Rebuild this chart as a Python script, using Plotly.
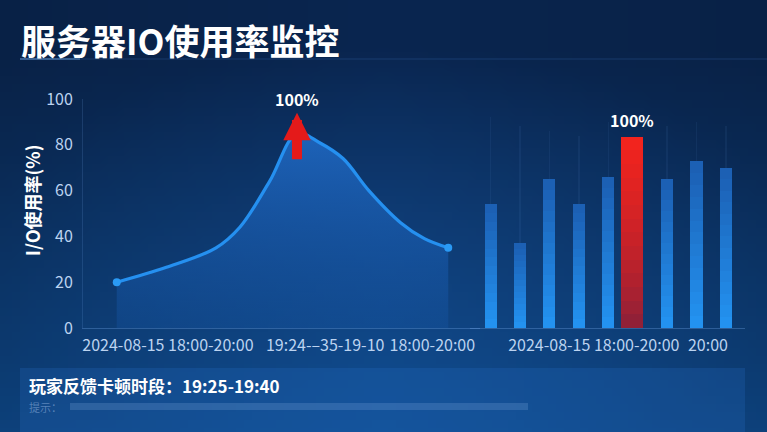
import base64, struct, zlib
import plotly.graph_objects as go

W, H = 767, 432

# ---------------- data ----------------
line_x = [0.85, 2.1, 3.35, 3.95, 4.7, 5.39, 5.95, 6.55, 7.2, 8.0, 8.6, 9.2]
line_y = [20, 26.5, 35, 44, 64, 85, 81, 74, 60, 46, 39, 35]
left_tick_vals = [2.14, 6.1, 8.8]
left_tick_text = ["2024-08-15 18:00-20:00", "19:24-–35-19-10", "18:00-20:00"]

bar_x = [0, 1, 2, 3, 4, 4.82, 6, 7, 8]
bar_y = [54, 37, 65, 54, 66, 83.5, 65, 73, 70]
bar_w = [0.41, 0.41, 0.41, 0.41, 0.41, 0.75, 0.41, 0.41, 0.41]
bar_is_red = [False, False, False, False, False, True, False, False, False]
guide_y = [92, 88, 86, 84, 90, 0, 88, 90, 88]
right_tick_vals = [3.51, 7.39]
right_tick_text = ["2024-08-15 18:00-20:00", "20:00"]

y_ticks = [0, 20, 40, 60, 80, 100]

title_text = "服务器IO使用率监控"
y_title = "I/O使用率(%)"
peak_label = "100%"
note_title = "玩家反馈卡顿时段：19:25-19:40"
note_hint = "提示："

FONT = "Noto Sans CJK SC"


def px(x):
    return x / W


def py(y):
    return 1 - y / H


def make_png(w, h, fn):
    raw = b""
    for j in range(h):
        raw += b"\x00"
        for i in range(w):
            r, g, b = fn(i / (w - 1), j / (h - 1))
            raw += bytes((int(r), int(g), int(b)))
    def chunk(t, d):
        c = struct.pack(">I", len(d)) + t + d
        return c + struct.pack(">I", zlib.crc32(t + d) & 0xFFFFFFFF)
    png = b"\x89PNG\r\n\x1a\n" + chunk(b"IHDR", struct.pack(">IIBBBBB", w, h, 8, 2, 0, 0, 0))
    png += chunk(b"IDAT", zlib.compress(raw, 9)) + chunk(b"IEND", b"")
    return "data:image/png;base64," + base64.b64encode(png).decode()


top = (10, 38, 80)
bot = (15, 74, 140)


def bg(u, v):
    t = min(1.0, max(0.0, (v - 0.1) / 0.9)) ** 1.1
    c = [top[k] + (bot[k] - top[k]) * t for k in range(3)]
    d = ((u - 0.5) / 0.55) ** 2 + ((v - 0.6) / 0.5) ** 2
    glow = max(0.0, 1 - d) * 0.25
    c = [c[0] + 10 * glow, c[1] + 30 * glow, c[2] + 50 * glow]
    e = 1 - 0.12 * abs(u - 0.5) * 2
    return tuple(min(255, max(0, ch * e)) for ch in c)


bg_img = make_png(96, 54, bg)

fig = go.Figure()

fig.add_trace(go.Scatter(
    x=line_x, y=line_y, mode="lines",
    line=dict(color="#2590f0", width=3.2, shape="spline", smoothing=1.0),
    fill="tozeroy",
    fillgradient=dict(type="vertical", start=0, stop=85,
                      colorscale=[[0, "rgba(24,92,178,0.25)"], [0.5, "rgba(28,100,190,0.55)"],
                                  [1, "rgba(34,112,208,0.8)"]]),
    hoverinfo="skip", showlegend=False, xaxis="x", yaxis="y"))
fig.add_trace(go.Scatter(
    x=[line_x[0], line_x[-1]], y=[line_y[0], line_y[-1]], mode="markers",
    marker=dict(color="#2a9af5", size=8), hoverinfo="skip", showlegend=False,
    xaxis="x", yaxis="y"))

# faint guide lines above bars
fig.add_trace(go.Bar(x=bar_x, y=guide_y, width=0.05,
                     marker=dict(color="rgba(120,170,235,0.07)", line=dict(width=0)),
                     hoverinfo="skip", showlegend=False, xaxis="x2", yaxis="y2"))


def lerp(a, b, t):
    return "rgb(%d,%d,%d)" % tuple(a[k] + (b[k] - a[k]) * t for k in range(3))


blue_bot, blue_top = (36, 150, 245), (28, 96, 180)
red_bot, red_top = (120, 32, 62), (242, 36, 30)
N = 14
for k in range(N, 0, -1):
    f = k / N
    cols = []
    for red in bar_is_red:
        if red:
            cols.append(lerp(red_bot, red_top, min(1, f ** 0.6)))
        else:
            cols.append(lerp(blue_bot, blue_top, f))
    fig.add_trace(go.Bar(
        x=bar_x, y=[v * f for v in bar_y], width=bar_w,
        marker=dict(color=cols, line=dict(width=0)),
        hoverinfo="skip", showlegend=False, xaxis="x2", yaxis="y2"))

axis_line = "rgba(110,160,225,0.35)"
tick_font = dict(family=FONT, size=16, color="#bcd3f0")
ydom = [(H - 328) / H, (H - 99) / H]

fig.update_layout(
    width=W, height=H,
    margin=dict(l=0, r=0, t=0, b=0, pad=0, autoexpand=False),
    paper_bgcolor="#0c2f60", plot_bgcolor="rgba(0,0,0,0)",
    barmode="overlay", bargap=0,
    xaxis=dict(domain=[px(83), px(480)], range=[0, 10], showgrid=False, zeroline=False,
               showline=True, linecolor=axis_line, linewidth=1, tickangle=0,
               tickvals=left_tick_vals, ticktext=left_tick_text, ticks="",
               tickfont=tick_font, ticklabelstandoff=3, fixedrange=True, automargin=False),
    yaxis=dict(domain=ydom, range=[0, 100], showgrid=False, zeroline=False,
               showline=True, linecolor="rgba(110,160,225,0.18)", linewidth=1,
               tickvals=y_ticks, ticks="", tickfont=tick_font, ticklabelstandoff=6,
               fixedrange=True, automargin=False),
    xaxis2=dict(domain=[px(470), px(745)], range=[-0.7, 8.65], showgrid=False, zeroline=False,
                showline=True, linecolor=axis_line, linewidth=1, tickangle=0,
                tickvals=right_tick_vals, ticktext=right_tick_text, ticks="",
                tickfont=tick_font, ticklabelstandoff=3, anchor="y2", fixedrange=True,
                automargin=False),
    yaxis2=dict(domain=ydom, range=[0, 100], visible=False, anchor="x2", fixedrange=True),
    images=[dict(source=bg_img, xref="paper", yref="paper", x=0, y=1, sizex=1, sizey=1,
                 sizing="stretch", layer="below", xanchor="left", yanchor="top")],
    font=dict(family=FONT),
)

shapes = [
    dict(type="line", xref="paper", yref="paper", x0=px(20), x1=1, y0=py(59), y1=py(59),
         line=dict(color="rgba(70,130,210,0.25)", width=1)),
    dict(type="line", xref="paper", yref="paper", x0=px(20), x1=px(80), y0=py(59), y1=py(59),
         line=dict(color="rgba(120,180,240,0.5)", width=1.5)),
    dict(type="rect", xref="paper", yref="paper", x0=px(20), x1=px(745), y0=py(368), y1=py(440),
         fillcolor="rgba(40,115,205,0.22)", line=dict(width=0), layer="below"),
    dict(type="rect", xref="paper", yref="paper", x0=px(70), x1=px(528), y0=py(403), y1=py(410),
         fillcolor="rgba(150,190,240,0.2)", line=dict(width=0)),
]
fig.update_layout(shapes=shapes)

annotations = [
    dict(text="<b>" + title_text + "</b>", xref="paper", yref="paper", x=px(19), y=py(40),
         xanchor="left", yanchor="middle", showarrow=False,
         font=dict(family=FONT, size=35, color="white")),
    dict(text="<b>" + y_title + "</b>", xref="paper", yref="paper", x=px(32), y=py(200),
         xanchor="center", yanchor="middle", showarrow=False, textangle=-90,
         font=dict(family=FONT, size=18, color="white")),
    dict(x=5.39, y=94, ax=5.39, ay=73, xref="x", yref="y", axref="x", ayref="y",
         text="", showarrow=True, arrowhead=2, arrowsize=0.55, arrowwidth=10,
         arrowcolor="#e41a1a"),
    dict(text="<b>" + peak_label + "</b>", x=5.39, y=100, xref="x", yref="y",
         showarrow=False, yanchor="middle", font=dict(family=FONT, size=16, color="white")),
    dict(text="<b>" + peak_label + "</b>", x=bar_x[5], y=90.8, xref="x2", yref="y2",
         showarrow=False, yanchor="middle", font=dict(family=FONT, size=16, color="white")),
    dict(text="<b>" + note_title + "</b>", xref="paper", yref="paper", x=px(27), y=py(385),
         xanchor="left", yanchor="middle", showarrow=False,
         font=dict(family=FONT, size=17, color="white")),
    dict(text=note_hint, xref="paper", yref="paper", x=px(27), y=py(407),
         xanchor="left", yanchor="middle", showarrow=False,
         font=dict(family=FONT, size=11, color="rgba(170,200,240,0.45)")),
]
fig.update_layout(annotations=annotations)

fig.write_html("out.html", config={"displayModeBar": False},
               post_script="document.body.style.margin='0';document.body.style.overflow='hidden';")
